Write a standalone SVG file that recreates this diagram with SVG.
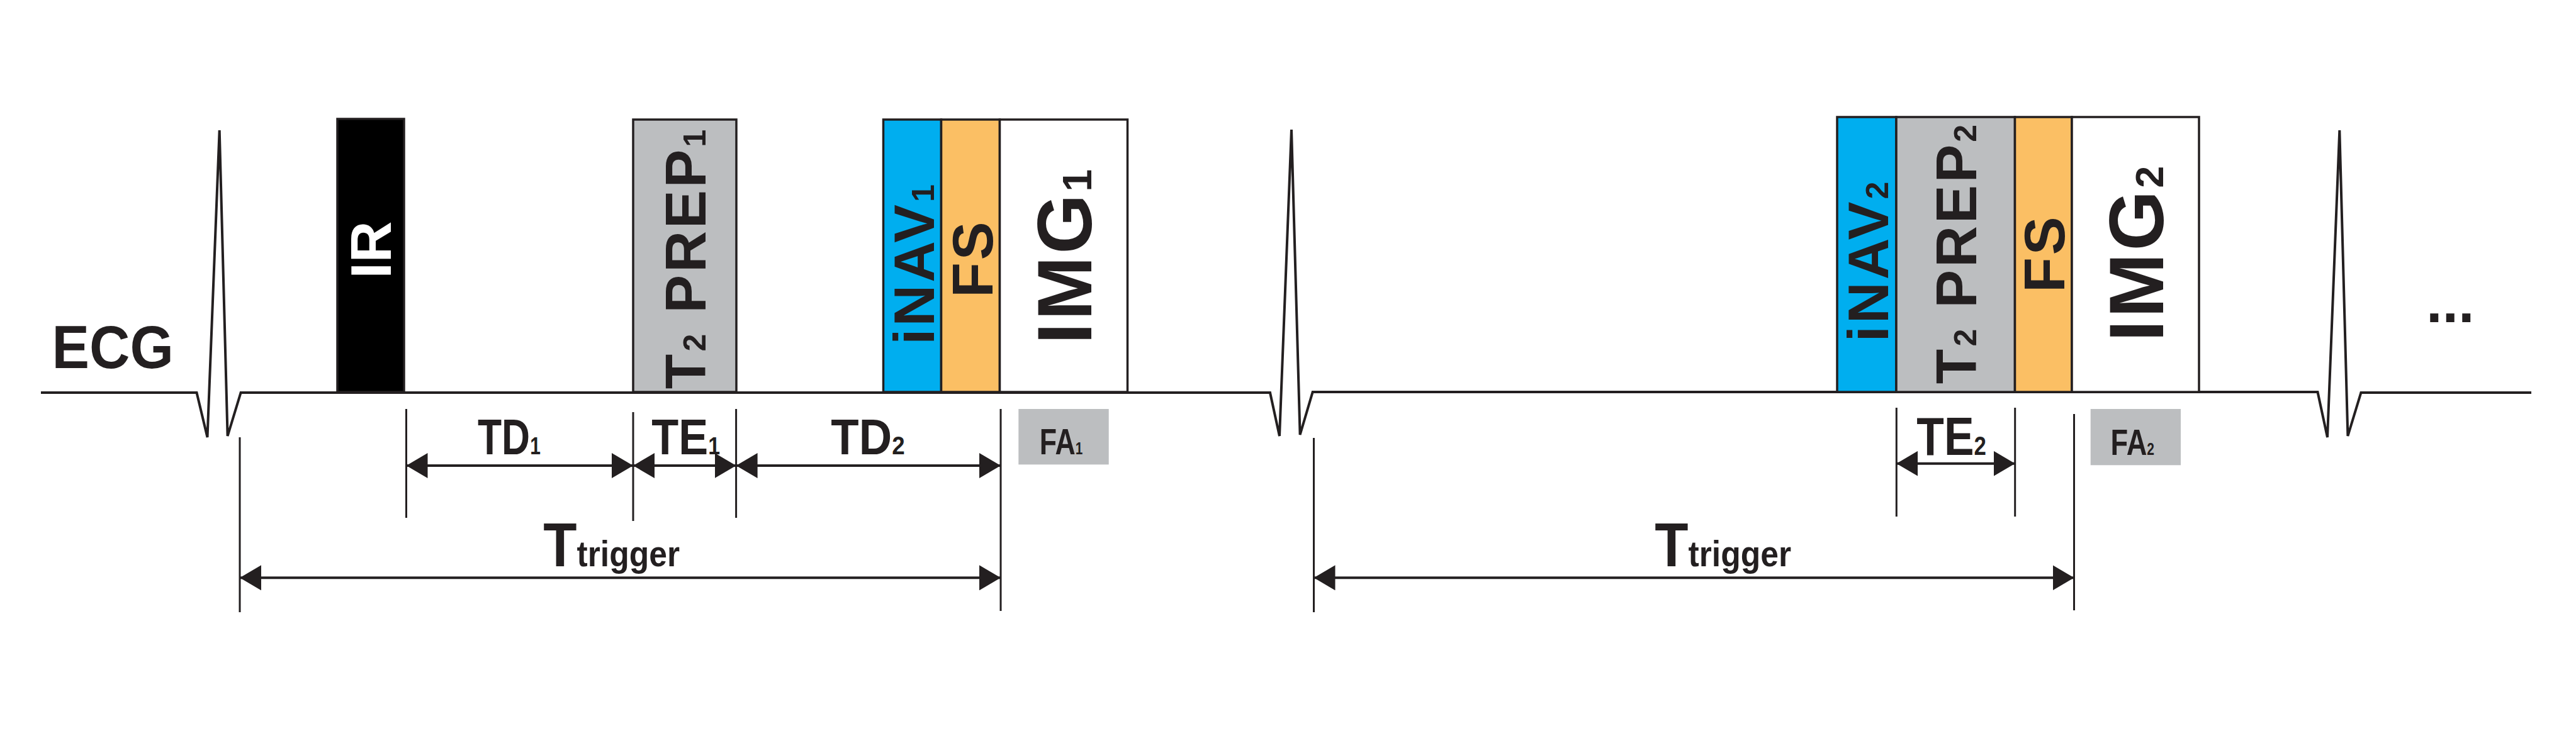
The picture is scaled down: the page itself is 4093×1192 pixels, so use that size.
<svg xmlns="http://www.w3.org/2000/svg" width="4093" height="1192" viewBox="0 0 4093 1192">
<style>
  text{font-family:"Liberation Sans",Arial,Helvetica,sans-serif;font-weight:bold;fill:#231F20}
  text.wt{fill:#fff}
  .box{stroke:#231F20;stroke-width:3.5}
  .vl{font-size:91px;letter-spacing:4px;text-anchor:middle}
  .sub{font-size:50px}
  .tick{stroke:#231F20;stroke-width:3;fill:none}
  .arr{stroke:#231F20;stroke-width:4;fill:none;marker-start:url(#ah);marker-end:url(#ah)}
  .fa{fill:#BCBEC0}
</style>
<defs>
  <marker id="ah" viewBox="0 0 34 40" refX="34" refY="20" markerWidth="34" markerHeight="40" markerUnits="userSpaceOnUse" orient="auto-start-reverse">
    <path d="M0,0 L34,20 L0,40 Z" fill="#231F20"/>
  </marker>
</defs>
<rect width="4093" height="1192" fill="#fff"/>

<g id="ecg">
  <path d="M65,624 L312.5,624 L329.5,695 L348.7,207 L361.6,693 L382.6,624 L2018,624 L2033,693 L2052,206 L2065.6,691 L2085.7,623 L3682.5,623 L3698,695 L3717.3,207 L3730.4,693 L3751.4,624 L4022,624" fill="none" stroke="#231F20" stroke-width="4"/>
  <text transform="translate(82.5,585) scale(0.92,1)" font-size="97">ECG</text>
  <text x="3855" y="511.5" font-size="92">...</text>
</g>

<g id="ir">
  <rect class="box" x="536" y="189" width="106" height="434" fill="#000"/>
  <text class="vl wt" style="letter-spacing:0" transform="translate(621.4,397) rotate(-90)">IR</text>
</g>

<g id="t2prep1">
  <rect class="box" x="1006" y="190" width="164" height="433" fill="#BCBEC0"/>
  <text class="vl" transform="translate(1120.5,410) rotate(-90)">T<tspan class="sub">2</tspan> PREP<tspan class="sub">1</tspan></text>
</g>

<g id="inav1">
  <rect class="box" x="1403.5" y="190" width="92" height="433" fill="#00AEEF"/>
  <text class="vl" transform="translate(1484,418.5) rotate(-90)">iNAV<tspan class="sub">1</tspan></text>
</g>

<g id="fs1">
  <rect class="box" x="1495.5" y="190" width="93" height="433" fill="#FBBF64"/>
  <text class="vl" transform="translate(1577,410.7) rotate(-90)">FS</text>
</g>

<g id="img1">
  <rect class="box" x="1588.5" y="190" width="203" height="433" fill="#fff"/>
  <text class="vl" style="font-size:122px" transform="translate(1734,406) rotate(-90)">IMG<tspan style="font-size:64px">1</tspan></text>
</g>

<g id="fa1">
  <rect class="fa" x="1618.3" y="650" width="143.4" height="88.3"/>
  <text transform="translate(1651.8,721.7) scale(0.77,1)" font-size="58">FA<tspan font-size="27">1</tspan></text>
</g>

<g id="inav2">
  <rect class="box" x="2919" y="186" width="94" height="437" fill="#00AEEF"/>
  <text class="vl" transform="translate(2999.6,414) rotate(-90)">iNAV<tspan class="sub">2</tspan></text>
</g>

<g id="t2prep2">
  <rect class="box" x="3013" y="186" width="188.5" height="437" fill="#BCBEC0"/>
  <text class="vl" transform="translate(3140,402) rotate(-90)">T<tspan class="sub">2</tspan> PREP<tspan class="sub">2</tspan></text>
</g>

<g id="fs2">
  <rect class="box" x="3201.5" y="186" width="90.5" height="437" fill="#FBBF64"/>
  <text class="vl" transform="translate(3279.5,402.6) rotate(-90)">FS</text>
</g>

<g id="img2">
  <rect class="box" x="3292" y="186" width="202" height="437" fill="#fff"/>
  <text class="vl" style="font-size:123px" transform="translate(3437,401.4) rotate(-90)">IMG<tspan style="font-size:63px">2</tspan></text>
</g>

<g id="fa2">
  <rect class="fa" x="3321.7" y="650" width="143.3" height="89.3"/>
  <text transform="translate(3353.5,723.3) scale(0.78,1)" font-size="58">FA<tspan font-size="27">2</tspan></text>
</g>

<g id="connectors">
  <line class="tick" x1="381" y1="695" x2="381" y2="973"/>
  <line class="tick" x1="645.5" y1="650" x2="645.5" y2="823"/>
  <line class="tick" x1="1006" y1="655" x2="1006" y2="828"/>
  <line class="tick" x1="1169.6" y1="650" x2="1169.6" y2="823"/>
  <line class="tick" x1="1590" y1="650" x2="1590" y2="971"/>
  <line class="tick" x1="2087.5" y1="696" x2="2087.5" y2="973"/>
  <line class="tick" x1="3013.3" y1="648" x2="3013.3" y2="821"/>
  <line class="tick" x1="3201.7" y1="648" x2="3201.7" y2="821"/>
  <line class="tick" x1="3295.5" y1="658" x2="3295.5" y2="970"/>

  <line class="arr" x1="645.5" y1="740" x2="1006" y2="740"/>
  <line class="arr" x1="1006" y1="740" x2="1169.6" y2="740"/>
  <line class="arr" x1="1169.6" y1="740" x2="1590" y2="740"/>
  <line class="arr" x1="381" y1="918.3" x2="1590" y2="918.3"/>
  <line class="arr" x1="2087.5" y1="918.3" x2="3295.5" y2="918.3"/>
  <line class="arr" x1="3013.3" y1="736.7" x2="3201.7" y2="736.7"/>
</g>

<g id="labels">
  <text transform="translate(759,721.7) scale(0.79,1)" font-size="79">TD<tspan font-size="38">1</tspan></text>
  <text transform="translate(1035.3,721.7) scale(0.89,1)" font-size="79">TE<tspan font-size="38">1</tspan></text>
  <text transform="translate(1320.3,721.7) scale(0.92,1)" font-size="79">TD<tspan font-size="40">2</tspan></text>
  <text transform="translate(3045.3,723.3) scale(0.83,1)" font-size="86">TE<tspan font-size="42">2</tspan></text>
  <text transform="translate(863.3,900) scale(0.89,1)" font-size="98">T<tspan font-size="58">trigger</tspan></text>
  <text transform="translate(2629.3,900) scale(0.89,1)" font-size="98">T<tspan font-size="58">trigger</tspan></text>
</g>
</svg>
